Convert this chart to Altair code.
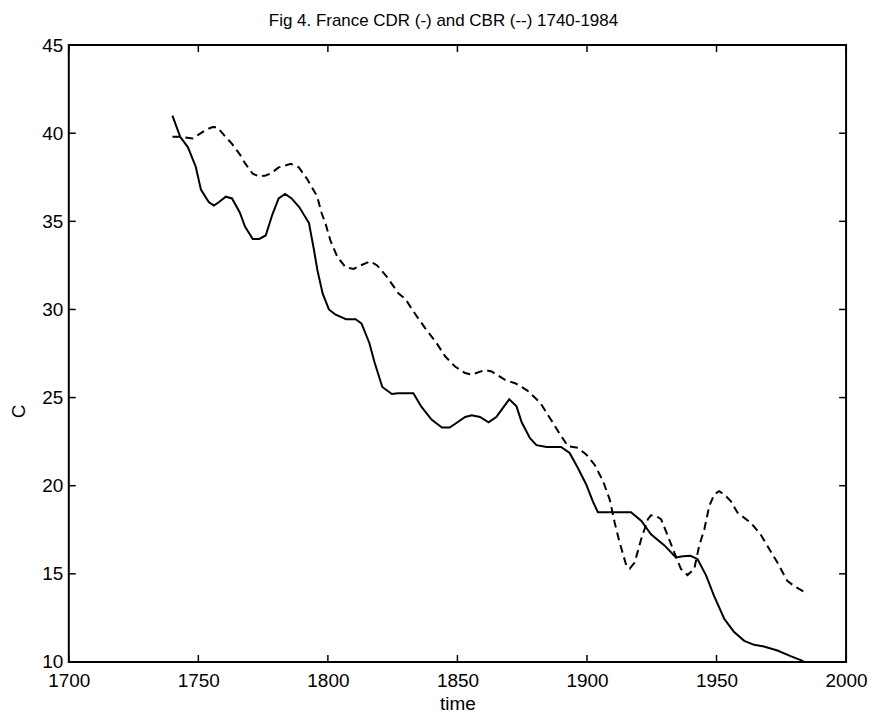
import altair as alt
import pandas as pd

# Crude death rate (solid line)
cdr_year = [1740, 1743, 1746, 1749, 1751, 1754, 1756, 1758, 1760.6, 1763, 1766, 1768, 1771,
            1773.5, 1776, 1778.6, 1781, 1783.5, 1786, 1789, 1792.7, 1794.6, 1796, 1798, 1800.4,
            1803, 1807, 1810.7, 1813, 1816, 1818, 1821, 1824.7, 1827, 1833, 1836, 1840, 1844,
            1847, 1850, 1853, 1855.5, 1858.7, 1862, 1865, 1867, 1870, 1872.8, 1874.8, 1878,
            1880.5, 1884.4, 1890, 1893.3, 1896.5, 1899.7, 1902.3, 1904.2, 1917, 1921, 1924.7,
            1930, 1934.3, 1937, 1940, 1942.7, 1946, 1949, 1953, 1956.8, 1960.7, 1964.5, 1968.3,
            1973.5, 1978.6, 1983.5]
cdr_value = [41.0, 39.8, 39.2, 38.1, 36.8, 36.1, 35.9, 36.1, 36.4, 36.3, 35.5, 34.7, 34.0,
             34.0, 34.2, 35.4, 36.3, 36.55, 36.3, 35.8, 34.9, 33.4, 32.2, 30.9, 30.0,
             29.7, 29.45, 29.45, 29.2, 28.1, 27.0, 25.6, 25.2, 25.25, 25.25, 24.5, 23.75, 23.3,
             23.3, 23.6, 23.9, 24.0, 23.9, 23.6, 23.9, 24.3, 24.9, 24.5, 23.6, 22.7,
             22.3, 22.2, 22.2, 21.86, 21.0, 20.07, 19.1, 18.5, 18.5, 18.0, 17.24,
             16.6, 15.93, 16.0, 16.02, 15.83, 14.9, 13.76, 12.44, 11.7, 11.2, 10.97, 10.88,
             10.65, 10.33, 10.05]

# Crude birth rate (dashed line)
cbr_year = [1740, 1743, 1747.8, 1750.4, 1753, 1755.5, 1757.4, 1760.7, 1763, 1766, 1768, 1771,
            1773.5, 1776, 1778, 1781, 1785.7, 1788.8, 1792, 1795.9, 1797.5, 1799.1, 1801,
            1803.6, 1806.8, 1810, 1812.6, 1816.4, 1819, 1822.8, 1827.3, 1829.9, 1833.1, 1837.6,
            1842, 1845.3, 1849.1, 1853, 1855.5, 1860.7, 1863.2, 1868.4, 1872.5, 1877, 1882,
            1886.5, 1890.1, 1892.7, 1896.5, 1899.7, 1902.9, 1906.2, 1908.8, 1910.7, 1912.6,
            1915.2, 1916.5, 1918.4, 1920.9, 1923.5, 1924.7, 1926.5, 1928.6, 1931.2, 1933.7,
            1936.3, 1938.8, 1941.4, 1943.3, 1945.3, 1947.2, 1949.1, 1951, 1953, 1955.5, 1958.1,
            1963.2, 1967, 1969.6, 1973.5, 1977.3, 1980, 1983.5]
cbr_value = [39.8, 39.8, 39.7, 39.95, 40.2, 40.35, 40.33, 39.76, 39.4, 38.8, 38.3, 37.7,
             37.55, 37.6, 37.72, 38.06, 38.26, 38.06, 37.4, 36.4, 35.5, 34.86, 33.9,
             33.0, 32.4, 32.3, 32.5, 32.73, 32.5, 31.85, 30.9, 30.6, 29.87, 28.93,
             28.08, 27.33, 26.76, 26.39, 26.3, 26.57, 26.48, 26.0, 25.8, 25.4, 24.7,
             23.65, 22.8, 22.24, 22.15, 21.77, 21.2, 20.26, 19.2, 17.9, 16.78,
             15.46, 15.3, 15.64, 16.96, 18.1, 18.32, 18.3, 18.1, 17.15, 16.21,
             15.27, 14.93, 15.27, 16.59, 17.53, 18.85, 19.5, 19.69, 19.5, 19.13, 18.47,
             17.9, 17.24, 16.59, 15.64, 14.6, 14.3, 14.0]

x_ticks = [1700, 1750, 1800, 1850, 1900, 1950, 2000]
y_ticks = [10, 15, 20, 25, 30, 35, 40, 45]
title_text = ["Fig 4. France CDR (-) and CBR (--) 1740-1984"]

W, H = 780, 619
TICK = 7
FONT = "Liberation Sans"

cdr = pd.DataFrame({"year": cdr_year, "rate": cdr_value})
cbr = pd.DataFrame({"year": cbr_year, "rate": cbr_value})
xt = pd.DataFrame({"year": x_ticks})
yt = pd.DataFrame({"rate": y_ticks})
tt = pd.DataFrame({"t": title_text})

xscale = alt.Scale(domain=[1700, 2000], nice=False, zero=False)
yscale = alt.Scale(domain=[10, 45], nice=False, zero=False)

xaxis = alt.Axis(values=x_ticks, format="d", ticks=False, domain=False, grid=False,
                 labelPadding=10, labelFontSize=19, labelFont=FONT, labelColor="black",
                 labelFlush=False, title="time", titleFontSize=19, titleFont=FONT,
                 titleFontWeight="normal", titleColor="black", titleY=48,
                 titleBaseline="alphabetic")
yaxis = alt.Axis(values=y_ticks, ticks=False, domain=False, grid=False,
                 labelPadding=6, labelFontSize=19, labelFont=FONT, labelColor="black",
                 labelFlush=False, labelBaseline="middle",
                 title="C", titleFontSize=19, titleFont=FONT, titleFontWeight="normal",
                 titleColor="black", titleX=-44, titleY=367, titleAngle=-90,
                 titleAlign="center", titleBaseline="alphabetic")

solid = alt.Chart(cdr).mark_line(color="black", strokeWidth=2).encode(
    x=alt.X("year:Q", scale=xscale, axis=xaxis),
    y=alt.Y("rate:Q", scale=yscale, axis=yaxis),
)
dashed = alt.Chart(cbr).mark_line(color="black", strokeWidth=2, strokeDash=[8, 5]).encode(
    x=alt.X("year:Q", scale=xscale),
    y=alt.Y("rate:Q", scale=yscale),
)

xt_bottom = alt.Chart(xt).mark_rule(color="black", strokeWidth=1.5).encode(
    x=alt.X("year:Q", scale=xscale), y=alt.value(H), y2=alt.value(H - TICK))
xt_top = alt.Chart(xt).mark_rule(color="black", strokeWidth=1.5).encode(
    x=alt.X("year:Q", scale=xscale), y=alt.value(0), y2=alt.value(TICK))
yt_left = alt.Chart(yt).mark_rule(color="black", strokeWidth=1.5).encode(
    y=alt.Y("rate:Q", scale=yscale), x=alt.value(0), x2=alt.value(TICK))
yt_right = alt.Chart(yt).mark_rule(color="black", strokeWidth=1.5).encode(
    y=alt.Y("rate:Q", scale=yscale), x=alt.value(W), x2=alt.value(W - TICK))

title = alt.Chart(tt).mark_text(fontSize=17, font=FONT, color="black", align="center",
                                baseline="alphabetic").encode(
    text="t:N", x=alt.value(376), y=alt.value(-19))

chart = alt.layer(solid, dashed, xt_bottom, xt_top, yt_left, yt_right, title).properties(
    width=W, height=H,
    autosize=alt.AutoSizeParams(type="none"),
    padding={"left": 61, "top": 36, "right": 22, "bottom": 50},
    background="white",
).configure_view(stroke="black", strokeWidth=2)

chart.save("out.html", embed_options={"renderer": "svg", "actions": False})
